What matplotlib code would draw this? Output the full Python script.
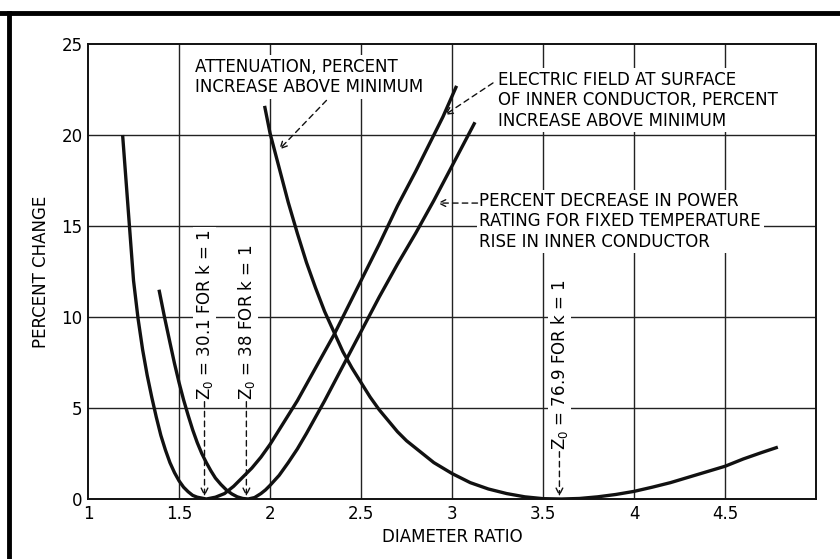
import matplotlib
matplotlib.use("Agg")
import matplotlib.pyplot as plt
from matplotlib.lines import Line2D

# --- data ---
# electric field at surface of inner conductor (min near 1.65)
field_x = [1.19, 1.22, 1.25, 1.275, 1.30, 1.325, 1.35, 1.375, 1.40, 1.425, 1.45, 1.475,
           1.50, 1.525, 1.55, 1.575, 1.60, 1.65, 1.70, 1.75, 1.80, 1.85, 1.90, 1.95,
           2.00, 2.05, 2.10, 2.15, 2.20, 2.25, 2.30, 2.35, 2.40, 2.45, 2.50, 2.55,
           2.60, 2.65, 2.70, 2.75, 2.80, 2.85, 2.90, 2.95, 3.025]
field_y = [20.0, 16.0, 12.0, 9.9, 8.2, 6.8, 5.6, 4.5, 3.5, 2.7, 2.0, 1.45,
           1.0, 0.65, 0.4, 0.2, 0.1, 0.0, 0.1, 0.3, 0.7, 1.2, 1.7, 2.3,
           3.0, 3.8, 4.6, 5.4, 6.3, 7.2, 8.1, 9.0, 10.0, 11.0, 12.0, 13.0,
           14.0, 15.05, 16.1, 17.05, 18.0, 19.0, 20.0, 21.0, 22.7]

# power rating decrease (min near 1.88)
power_x = [1.39, 1.42, 1.45, 1.475, 1.50, 1.525, 1.55, 1.575, 1.60, 1.625, 1.65, 1.675,
           1.70, 1.73, 1.76, 1.79, 1.82, 1.85, 1.88, 1.915, 1.95, 1.975, 2.00, 2.05,
           2.10, 2.15, 2.20, 2.25, 2.30, 2.35, 2.40, 2.50, 2.60, 2.70, 2.80, 2.90,
           3.00, 3.126]
power_y = [11.5, 10.0, 8.6, 7.45, 6.4, 5.45, 4.6, 3.8, 3.1, 2.5, 2.0, 1.55,
           1.15, 0.8, 0.5, 0.28, 0.12, 0.03, 0.0, 0.08, 0.3, 0.5, 0.75, 1.3,
           2.0, 2.75, 3.6, 4.5, 5.4, 6.35, 7.3, 9.2, 11.1, 12.9, 14.6, 16.4,
           18.3, 20.7]

# attenuation increase above minimum (min near 3.6)
atten_x = [1.97, 2.00, 2.05, 2.10, 2.15, 2.20, 2.25, 2.30, 2.35, 2.40, 2.45, 2.50,
           2.55, 2.60, 2.65, 2.70, 2.75, 2.80, 2.85, 2.90, 2.95, 3.00, 3.10, 3.20,
           3.30, 3.40, 3.50, 3.60, 3.70, 3.80, 3.90, 4.00, 4.10, 4.20, 4.30, 4.40,
           4.50, 4.60, 4.70, 4.79]
atten_y = [21.6, 20.1, 18.2, 16.3, 14.6, 13.0, 11.6, 10.3, 9.2, 8.1, 7.2, 6.4,
           5.6, 4.9, 4.3, 3.7, 3.2, 2.8, 2.4, 2.0, 1.7, 1.4, 0.9, 0.55,
           0.3, 0.12, 0.02, 0.0, 0.03, 0.12, 0.25, 0.42, 0.65, 0.9, 1.2, 1.5,
           1.8, 2.2, 2.55, 2.85]

x_ticks = [1, 1.5, 2, 2.5, 3, 3.5, 4, 4.5]
x_tick_labels = ["1", "1.5", "2", "2.5", "3", "3.5", "4", "4.5"]
y_ticks = [0, 5, 10, 15, 20, 25]

plt.rcParams["font.family"] = ["DejaVu Sans"]

fig = plt.figure(figsize=(8.4, 5.59), dpi=100)
ax = fig.add_axes([0.1048, 0.1073, 0.8667, 0.814])

ax.set_xlim(1, 5)
ax.set_ylim(0, 25)

# grid
for gx in x_ticks[1:]:
    ax.axvline(gx, color="#222222", lw=1.0, zorder=1)
for gy in y_ticks[1:-1]:
    ax.axhline(gy, color="#222222", lw=1.0, zorder=1)

# curves
for cx, cy in [(field_x, field_y), (power_x, power_y), (atten_x, atten_y)]:
    ax.plot(cx, cy, color="#111111", lw=2.4, zorder=3,
            solid_capstyle="butt", solid_joinstyle="round")

ax.set_xticks(x_ticks)
ax.set_xticklabels(x_tick_labels)
ax.set_yticks(y_ticks)
ax.tick_params(length=0, labelsize=12, pad=4)
for s in ax.spines.values():
    s.set_linewidth(1.4)
    s.set_color("#111111")

ax.set_xlabel("DIAMETER RATIO", fontsize=12, labelpad=4)
ax.set_ylabel("PERCENT CHANGE", fontsize=12, labelpad=8)

box = dict(fc="white", ec="none", pad=2)
dash = dict(arrowstyle="->", ls=(0, (4, 3)), lw=1.0, color="#111111",
            shrinkA=0, shrinkB=0, mutation_scale=12)

# curve labels
ax.text(1.59, 23.2, "ATTENUATION, PERCENT\nINCREASE ABOVE MINIMUM", fontsize=12,
        ha="left", va="center", linespacing=1.15, bbox=box, zorder=4)
ax.annotate("", xy=(2.05, 19.2), xytext=(2.31, 21.9), arrowprops=dash, zorder=4)

ax.text(3.25, 21.9, "ELECTRIC FIELD AT SURFACE\nOF INNER CONDUCTOR, PERCENT\nINCREASE ABOVE MINIMUM",
        fontsize=12, ha="left", va="center", linespacing=1.15, bbox=box, zorder=4)
ax.annotate("", xy=(2.96, 21.1), xytext=(3.225, 22.86), arrowprops=dash, zorder=4)

ax.text(3.15, 15.25, "PERCENT DECREASE IN POWER\nRATING FOR FIXED TEMPERATURE\nRISE IN INNER CONDUCTOR",
        fontsize=12, ha="left", va="center", linespacing=1.15, bbox=box, zorder=4)
ax.annotate("", xy=(2.92, 16.26), xytext=(3.14, 16.26), arrowprops=dash, zorder=4)

# optimum markers
markers = [(1.64, 5.45, "Z$_0$ = 30.1 FOR k = 1"),
           (1.87, 5.45, "Z$_0$ = 38 FOR k = 1"),
           (3.59, 2.7, "Z$_0$ = 76.9 FOR k = 1")]
for mx, my, label in markers:
    ax.text(mx, my, label, rotation=90, fontsize=12, ha="center", va="bottom",
            bbox=dict(fc="white", ec="none", pad=1), zorder=4)
    ax.annotate("", xy=(mx, 0.15), xytext=(mx, my - 0.1), arrowprops=dash, zorder=4)

# outer frame of the printed figure
fig.add_artist(Line2D([0, 1], [0.9767, 0.9767], transform=fig.transFigure,
                      color="black", lw=3.5))
fig.add_artist(Line2D([0.0107, 0.0107], [0, 0.9767], transform=fig.transFigure,
                      color="black", lw=3.5))

fig.savefig("out.png", dpi=100)
